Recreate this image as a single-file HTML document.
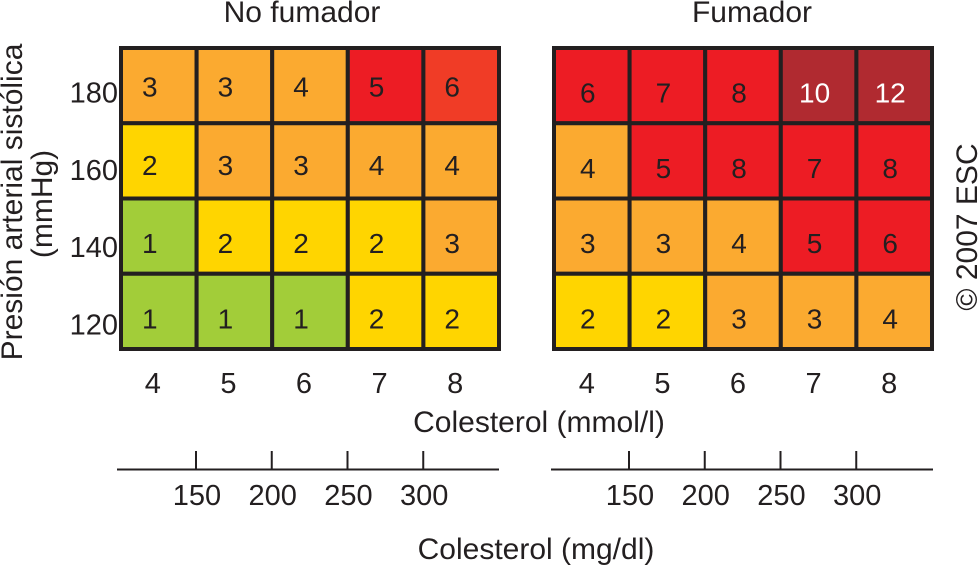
<!DOCTYPE html>
<html lang="es">
<head>
<meta charset="utf-8">
<title>Riesgo cardiovascular</title>
<style>
html,body{margin:0;padding:0;background:#fff;width:980px;height:565px;overflow:hidden}
svg{display:block}
text{font-family:"Liberation Sans",Arial,sans-serif;fill:#231f20}
</style>
</head>
<body>
<svg id="chart" width="980" height="565" viewBox="0 0 980 565" xmlns="http://www.w3.org/2000/svg">
  <text x="302" y="22" font-size="30" text-anchor="middle">No fumador</text>
  <text x="752" y="22" font-size="30" text-anchor="middle">Fumador</text>
  <text transform="translate(22,202) rotate(-90)" font-size="30" text-anchor="middle">Presión arterial sistólica</text>
  <text transform="translate(52,204) rotate(-90)" font-size="30" text-anchor="middle">(mmHg)</text>
  <text x="539" y="432" font-size="30" text-anchor="middle">Colesterol (mmol/l)</text>
  <text x="536" y="559" font-size="30" text-anchor="middle">Colesterol (mg/dl)</text>
  <text transform="translate(977,227) rotate(-90)" font-size="30" text-anchor="middle">© 2007 ESC</text>
  <g id="plot"></g>
</svg>
<script>
// Chart data
const mmolCategories = [4, 5, 6, 7, 8];
const pressureCategories = [180, 160, 140, 120];
const mgdlTicks = [150, 200, 250, 300];
const nonSmokerValues = [
  [3, 3, 4, 5, 6],
  [2, 3, 3, 4, 4],
  [1, 2, 2, 2, 3],
  [1, 1, 1, 2, 2]
];
const smokerValues = [
  [6, 7, 8, 10, 12],
  [4, 5, 8, 7, 8],
  [3, 3, 4, 5, 6],
  [2, 2, 3, 3, 4]
];
const nonSmokerLevels = [
  ['orange', 'orange', 'orange', 'red', 'orangeRed'],
  ['yellow', 'orange', 'orange', 'orange', 'orange'],
  ['green', 'yellow', 'yellow', 'yellow', 'orange'],
  ['green', 'green', 'green', 'yellow', 'yellow']
];
const smokerLevels = [
  ['red', 'red', 'red', 'darkRed', 'darkRed'],
  ['orange', 'red', 'red', 'red', 'red'],
  ['orange', 'orange', 'orange', 'red', 'red'],
  ['yellow', 'yellow', 'orange', 'orange', 'orange']
];
const levelColors = {
  green: '#a2cd39',
  yellow: '#ffd500',
  orange: '#fbaa30',
  orangeRed: '#f03c26',
  red: '#ed1c24',
  darkRed: '#b02a30'
};

const NS = 'http://www.w3.org/2000/svg';
const plot = document.getElementById('plot');

function make(tag, attrs, text) {
  const el = document.createElementNS(NS, tag);
  for (const k in attrs) el.setAttribute(k, attrs[k]);
  if (text !== undefined) el.textContent = text;
  return el;
}

// Axis functions
const gridTop = 48, rowStep = 75.25, colStep = 75.6;
function colEdge(panelLeft, i) { return panelLeft + i * colStep; }
function rowEdge(i) { return gridTop + i * rowStep; }
function mgdlX(panelRefX, v) { return panelRefX + (v - 150) * 1.515; }

function drawPanel(key, panelLeft, values, levels, textDx, topRowsRaised, refX, axisLeft, axisRight, tickDx) {
  const g = make('g', {});
  
  
  plot.appendChild(g);

  values.forEach(function (row, r) {
    row.forEach(function (v, c) {
      const cell = make('rect', {
        x: colEdge(panelLeft, c), y: rowEdge(r),
        width: colStep, height: rowStep,
        fill: levelColors[levels[r][c]],
        stroke: '#231f20', 'stroke-width': 4
      });
      
      
      g.appendChild(cell);
    });
  });

  values.forEach(function (row, r) {
    row.forEach(function (v, c) {
      const raise = topRowsRaised ? Math.max(0, 6 - r * 3) : 0;
      const label = make('text', {
        x: colEdge(panelLeft, c) + colStep / 2 + textDx,
        y: rowEdge(r) + rowStep / 2 + 17 - raise,
        'font-size': 28, 'text-anchor': 'middle'
      }, v);
      if (v >= 10) label.style.fill = '#ffffff';
      
      
      g.appendChild(label);
    });
  });

  mmolCategories.forEach(function (v, c) {
    const t = make('text', {
      x: colEdge(panelLeft, c) + colStep / 2 + tickDx,
      y: 393, 'font-size': 29, 'text-anchor': 'middle'
    }, v);
    
    
    g.appendChild(t);
  });

  const base = make('line', {
    x1: axisLeft, x2: axisRight, y1: 469.5, y2: 469.5,
    stroke: '#231f20', 'stroke-width': 2
  });
  
  
  g.appendChild(base);

  mgdlTicks.forEach(function (v) {
    const x = mgdlX(refX, v);
    const tick = make('line', {
      x1: x, x2: x, y1: 451, y2: 470,
      stroke: '#231f20', 'stroke-width': 2
    });
    
    
    g.appendChild(tick);
    const t = make('text', {
      x: x + 1, y: 505, 'font-size': 29, 'text-anchor': 'middle'
    }, v);
    
    
    g.appendChild(t);
  });
}

drawPanel('non-smoker', 121, nonSmokerValues, nonSmokerLevels, -9, true, 196, 117, 499, -6);
drawPanel('smoker', 554, smokerValues, smokerLevels, -4, false, 629, 551, 933, -5);

pressureCategories.forEach(function (v, r) {
  const t = make('text', {
    x: 118, y: rowEdge(r) + rowStep / 2 + 17 + r * 2,
    'font-size': 29, 'text-anchor': 'end'
  }, v);
  
  
  plot.appendChild(t);
});
</script>
</body>
</html>
